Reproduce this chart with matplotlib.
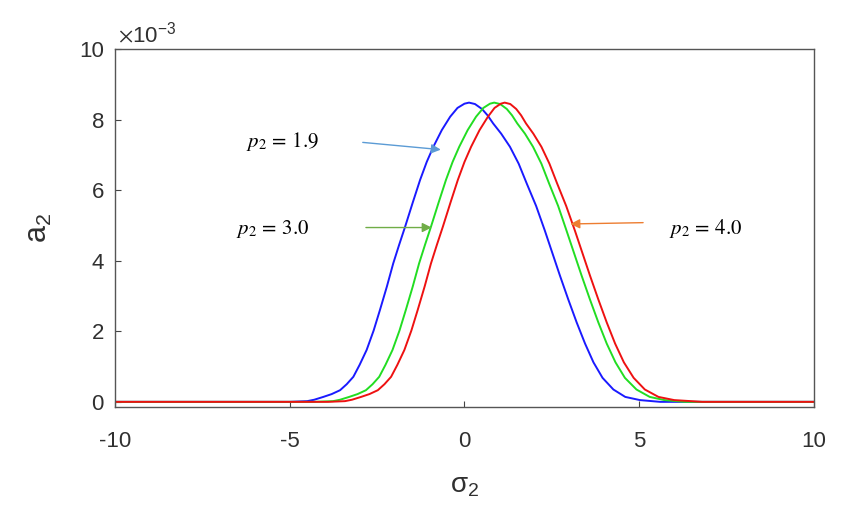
import matplotlib
matplotlib.use("Agg")
import matplotlib.pyplot as plt

#--Data (a2 values in units of 1e-3)--#
sig_blue = [-10, -5, -4.5, -4.3, -4.04, -3.8, -3.56, -3.37, -3.18, -3.0,
            -2.80, -2.6, -2.42, -2.22, -2.04, -1.87, -1.70, -1.48, -1.27, -1.08,
            -0.89, -0.65, -0.41, -0.2, 0.0, 0.13, 0.3, 0.5, 0.66, 0.82,
            1.05, 1.30, 1.55, 1.78, 2.05, 2.30, 2.52, 2.73, 2.97, 3.21,
            3.45, 3.69, 3.95, 4.26, 4.6, 5.02, 5.6, 10]
sig_green = [-10, -4.3, -3.76, -3.56, -3.30, -3.06, -2.82, -2.63, -2.44, -2.26,
             -2.06, -1.86, -1.68, -1.48, -1.30, -1.13, -0.96, -0.74, -0.53, -0.34,
             -0.15, 0.09, 0.33, 0.54, 0.73, 0.85, 1.02, 1.21, 1.36, 1.51,
             1.73, 1.96, 2.20, 2.42, 2.68, 2.92, 3.14, 3.35, 3.59, 3.83,
             4.07, 4.32, 4.59, 4.92, 5.3, 5.72, 6.3, 10]
sig_red = [-10, -3.9, -3.42, -3.22, -2.96, -2.72, -2.48, -2.29, -2.10, -1.92,
           -1.72, -1.52, -1.34, -1.14, -0.96, -0.79, -0.62, -0.40, -0.19, 0.0,
           0.19, 0.43, 0.67, 0.86, 1.04, 1.15, 1.31, 1.48, 1.62, 1.76,
           1.97, 2.20, 2.43, 2.65, 2.91, 3.16, 3.38, 3.59, 3.83, 4.07,
           4.31, 4.56, 4.84, 5.16, 5.55, 6.0, 6.8, 10]
# the three curves share the same profile heights, read at the points above
a_profile = [0, 0, 0.02, 0.06, 0.14, 0.22, 0.33, 0.50, 0.71, 1.05,
             1.47, 2.02, 2.60, 3.27, 3.92, 4.45, 4.96, 5.65, 6.29, 6.80,
             7.23, 7.70, 8.08, 8.33, 8.45, 8.48, 8.44, 8.30, 8.12, 7.89,
             7.60, 7.23, 6.75, 6.19, 5.55, 4.85, 4.20, 3.58, 2.90, 2.25,
             1.65, 1.12, 0.68, 0.35, 0.14, 0.05, 0, 0]

labels = [r'$p_2\,=\,1.9$', r'$p_2\,=\,3.0$', r'$p_2\,=\,4.0$']
label_xy = [(-5.2, 7.37), (-5.5, 4.9), (6.9, 4.9)]
arrow_from = [(-2.99, 7.36), (-2.9, 4.94), (5.19, 5.08)]
arrow_to = [(-0.6, 7.14), (-0.86, 4.94), (2.95, 5.04)]
arrow_cols = ['#5b9bd5', '#70ad47', '#ed7d31']

xticks = [-10, -5, 0, 5, 10]
yticks = [0, 2, 4, 6, 8, 10]

#--Plot--#
plt.rcParams['font.family'] = ['Liberation Sans', 'DejaVu Sans']
plt.rcParams['mathtext.fontset'] = 'stix'

fig = plt.figure(figsize=(8.48, 5.14), dpi=100)
ax = fig.add_axes([0.1356, 0.2072, 0.8243, 0.6975])

ax.plot(sig_blue, a_profile, color='#1a1aff', lw=1.4)
ax.plot(sig_green, a_profile, color='#22dd22', lw=1.4)
ax.plot(sig_red, a_profile, color='#ee1111', lw=1.4)

for lab, xy, p0, p1, c in zip(labels, label_xy, arrow_from, arrow_to, arrow_cols):
    ax.text(xy[0], xy[1], lab, fontsize=15, ha='center', va='center')
    ax.annotate('', xy=p1, xytext=p0,
                arrowprops=dict(arrowstyle='-|>', color=c, lw=1.0, mutation_scale=14))

ax.set_xlim(-10, 10)
ax.set_ylim(-0.16, 10)
ax.set_xticks(xticks)
ax.set_yticks(yticks)
ax.set_xticklabels([str(t) for t in xticks])
ax.set_yticklabels([str(t) for t in yticks])
ax.tick_params(direction='in', length=4, width=0.8, labelsize=16, colors='#444444',
               labelcolor='#303030', top=False, right=False)
ax.tick_params(axis='x', pad=17)
ax.tick_params(axis='y', pad=8)
for s in ax.spines.values():
    s.set_color('#555555')
    s.set_linewidth(1.0)

ax.text(0.005, 1.005, r'$\times$10$^{\mathregular{-3}}$', transform=ax.transAxes,
        fontsize=16, color='#303030', ha='left', va='bottom')

ax.set_xlabel(r'$\mathregular{\sigma_2}$', fontsize=20, color='#303030', labelpad=15)
ax.set_ylabel(r'$\mathregular{a_2}$', fontsize=22, color='#303030', labelpad=18)

fig.savefig('out.png', dpi=100)
